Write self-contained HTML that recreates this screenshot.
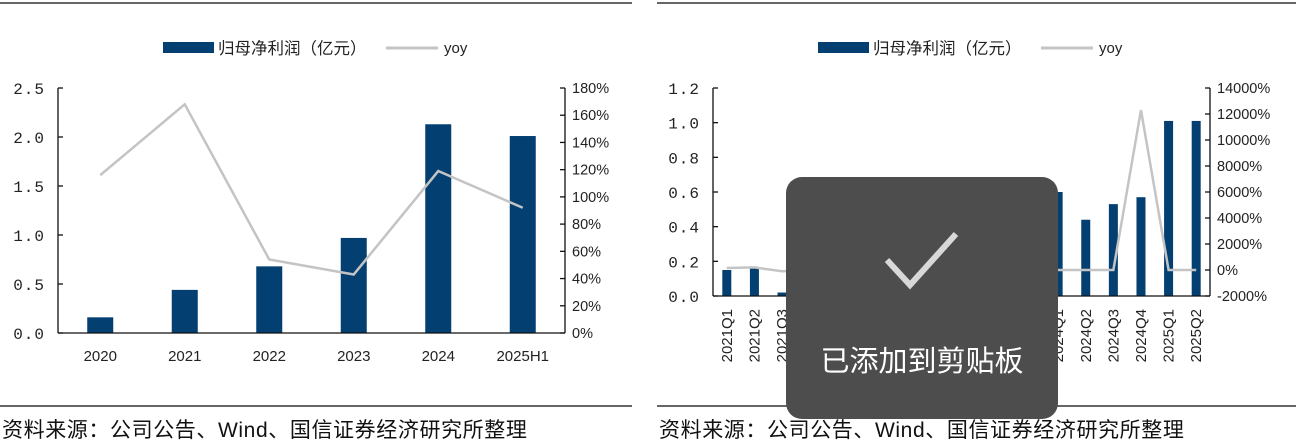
<!DOCTYPE html>
<html><head><meta charset="utf-8"><style>
body{margin:0;background:#fff;width:1314px;height:448px;overflow:hidden;position:relative;font-family:"Liberation Sans","Noto Sans CJK SC",sans-serif}
svg{position:absolute;left:0;top:0}
</style></head><body>
<svg id="s" width="1314" height="448"></svg>
<script>
// Left chart data
const catsA=["2020","2021","2022","2023","2024","2025H1"];
const profitA=[0.16,0.44,0.68,0.97,2.13,2.01];
const yoyA=[116,168,54,43,119,92];
const leftTicksA=["0.0","0.5","1.0","1.5","2.0","2.5"];
const rightTicksA=["0%","20%","40%","60%","80%","100%","120%","140%","160%","180%"];
// Right chart data
const catsB=["2021Q1","2021Q2","2021Q3","2021Q4","2022Q1","2022Q2","2022Q3","2022Q4","2023Q1","2023Q2","2023Q3","2023Q4","2024Q1","2024Q2","2024Q3","2024Q4","2025Q1","2025Q2"];
const profitB=[0.15,0.16,0.02,0.10,0.15,0.20,0.18,0.15,0.20,0.30,0.35,0.10,0.60,0.44,0.53,0.57,1.01,1.01];
const yoyB=[150,200,-100,0,100,0,-50,0,0,50,100,0,0,0,0,12300,0,0];
const leftTicksB=["0.0","0.2","0.4","0.6","0.8","1.0","1.2"];
const rightTicksB=["-2000%","0%","2000%","4000%","6000%","8000%","10000%","12000%","14000%"];

const S=document.getElementById('s');const NS="http://www.w3.org/2000/svg";
function el(t,a,txt){const e=document.createElementNS(NS,t);for(const k in a)e.setAttribute(k,a[k]);if(txt!==undefined)e.textContent=txt;S.appendChild(e);return e;}
const NAVY="#043f72",GRAY="#c4c4c4",FONT='"Liberation Mono","Noto Sans CJK SC",monospace';

function chart(o){
  const {x0,x1,yT,yB,lmin,lmax,rmin,rmax,cats,prof,yoy,lt,rt,bw,rot,p}=o;
  const n=cats.length,cw=(x1-x0)/n;
  const yL=v=>yB-(v-lmin)/(lmax-lmin)*(yB-yT);
  const yR=v=>yB-(v-rmin)/(rmax-rmin)*(yB-yT);
  const xc=i=>x0+(i+0.5)*cw;
  let e;
  e=el('line',{x1:o.rx0,x2:o.rx1,y1:3,y2:3,stroke:'#333','stroke-width':1.5});
  
  e=el('line',{x1:o.rx0,x2:o.rx1,y1:406,y2:406,stroke:'#333','stroke-width':1.5});
  
  const lx=o.legX;
  e=el('rect',{x:lx,y:42,width:51,height:11,fill:NAVY});
  
  e=el('text',{x:lx+55,y:54,'font-size':16.5,fill:'#222','font-family':'"Liberation Sans","Noto Sans CJK SC",sans-serif'},'归母净利润（亿元）');
  
  e=el('line',{x1:lx+223,x2:lx+275,y1:48,y2:48,stroke:GRAY,'stroke-width':3});
  
  e=el('text',{x:lx+281,y:53,'font-size':15,fill:'#222'},'yoy');
  
  prof.forEach((v,i)=>{const b=el('rect',{x:xc(i)-bw/2,y:yL(v),width:bw,height:yB-yL(v),fill:NAVY});
    
    });
  const pl=el('polyline',{points:yoy.map((v,i)=>xc(i)+','+yR(v)).join(' '),fill:'none',stroke:GRAY,'stroke-width':2.5});
  
  e=el('line',{x1:x0,x2:x0,y1:yT,y2:yB,stroke:'#111','stroke-width':1.3});
  
  e=el('line',{x1:x1,x2:x1,y1:yT,y2:yB,stroke:'#111','stroke-width':1.3});
  
  e=el('line',{x1:x0,x2:x1,y1:yB,y2:yB,stroke:'#111','stroke-width':1.3});
  
  lt.forEach(t=>{const y=yL(parseFloat(t));
    el('line',{x1:x0,x2:x0+5,y1:y,y2:y,stroke:'#111','stroke-width':1.3});
    const tx=el('text',{x:x0-13,y:y+6,'font-size':16,'text-anchor':'end','letter-spacing':'1','fill':'#222','font-family':FONT},t);
    
    });
  rt.forEach(t=>{const y=yR(parseFloat(t));
    el('line',{x1:x1,x2:x1-5,y1:y,y2:y,stroke:'#111','stroke-width':1.3});
    const tx=el('text',{x:x1+7,y:y+5,'font-size':14.5,fill:'#222'},t);
    
    });
  cats.forEach((c,i)=>{let tx;
    if(rot){tx=el('text',{x:0,y:0,'font-size':15,'text-anchor':'end',fill:'#222',transform:`translate(${xc(i)+5},${yB+13}) rotate(-90)`},c);}
    else{tx=el('text',{x:xc(i),y:yB+28,'font-size':15,'text-anchor':'middle',fill:'#222'},c);}
    
    });
  e=el('text',{x:o.rx0+2,y:437,'font-size':21,'letter-spacing':'0.6',fill:'#111','font-family':'"Liberation Sans","Noto Sans CJK SC",sans-serif'},'资料来源：公司公告、Wind、国信证券经济研究所整理');
  
}
chart({p:'left-',rx0:0,rx1:632,legX:163,x0:58,x1:565,yT:88,yB:333,lmin:0,lmax:2.5,rmin:0,rmax:180,cats:catsA,prof:profitA,yoy:yoyA,lt:leftTicksA,rt:rightTicksA,bw:26,rot:false});
chart({p:'right-',rx0:657,rx1:1296,legX:818,x0:713,x1:1210,yT:88,yB:296,lmin:0,lmax:1.2,rmin:-2000,rmax:14000,cats:catsB,prof:profitB,yoy:yoyB,lt:leftTicksB,rt:rightTicksB,bw:9,rot:true});
let e=el('rect',{x:786,y:177,width:272,height:242,rx:16,fill:'#4d4d4d'});

e=el('polyline',{points:'887,260 910,285 956,234',fill:'none',stroke:'#d8d8d8','stroke-width':6});

e=el('text',{x:922,y:371,'font-size':29,'text-anchor':'middle',fill:'#fff','font-family':'"Noto Sans CJK SC",sans-serif'},'已添加到剪贴板');

</script>
</body></html>
